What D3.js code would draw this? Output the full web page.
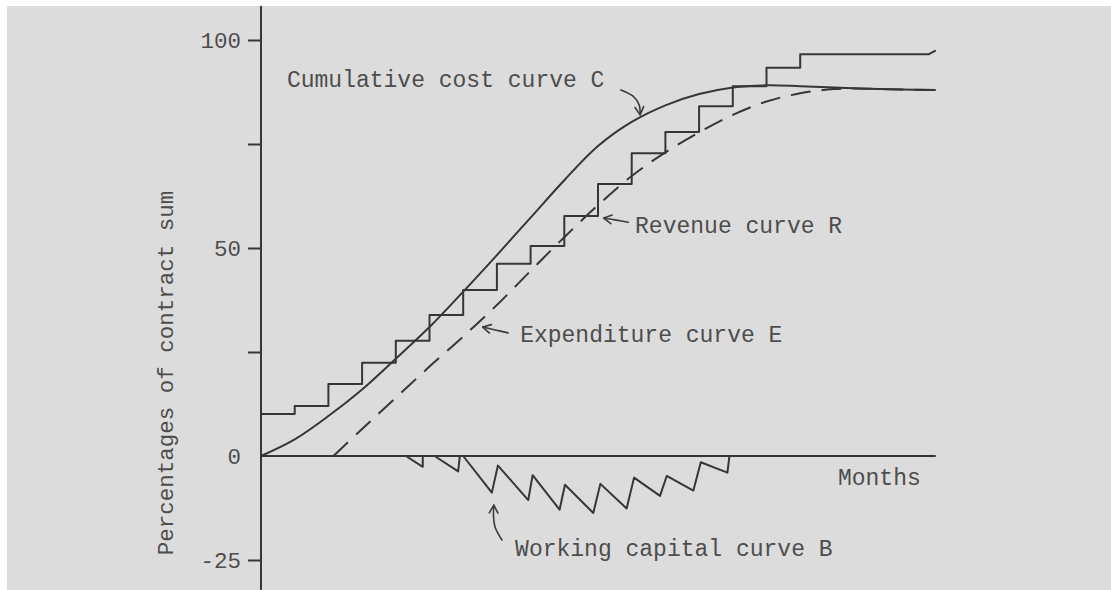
<!DOCTYPE html>
<html>
<head>
<meta charset="utf-8">
<script src="https://cdnjs.cloudflare.com/ajax/libs/d3/7.8.5/d3.min.js"></script>
<style>
  body { margin: 0; background: #fff; }
  svg { display: block; }
  .label { font-family: "Liberation Mono", "Courier New", monospace; font-size: 23px; fill: #4d4d4d; }
  .ink { fill: none; stroke: #363636; stroke-width: 2; stroke-linejoin: round; stroke-linecap: round; }
  .pointer { fill: none; stroke: #3c3c3c; stroke-width: 1.6; stroke-linecap: round; stroke-linejoin: round; }
</style>
</head>
<body>
<div id="chart"></div>
<script>
// months along the bottom
var months = [0, 1, 2, 3, 4, 5, 6, 7, 8, 9, 10, 11, 12, 13, 14, 15, 16, 17, 18, 19, 20];

// cumulative cost curve C (% of contract sum)
var costCurve = [0, 4.0, 9.6, 16, 23.4, 31, 39.5, 48.3, 57.3, 66.3, 74.5, 80.3, 84.3, 87, 88.6, 89.1, 88.9, 88.6, 88.3, 88.1, 88];

// expenditure curve E (dashed), starts a couple of months late
var expenditureMonths = [2.15, 3, 4, 5, 6, 7, 8, 9, 10, 11, 12, 13, 14, 15, 16, 17, 18, 19, 20];
var expenditureCurve = [0, 6.5, 14, 21.5, 28.7, 36.3, 44.5, 52.6, 60.3, 67.3, 73, 77.8, 82, 85.2, 87.2, 88.2, 88.3, 88.1, 88];

// revenue curve R: level held from month i to month i+1 (the last one to the end)
var revenueSteps = [10.1, 12, 17.3, 22.4, 27.7, 33.9, 39.9, 46.2, 50.5, 57.7, 65.4, 72.8, 77.9, 84.1, 88.9, 93.3, 96.6];
var revenueEnd = 97.4;

// working capital curve B
var capitalMonths = [4.3, 4.8, 4.8, 5.15, 5.85, 5.9, 6.0, 6.85, 7.03, 7.93, 8.06, 8.86, 9.02, 9.86, 10.07, 10.85, 11.07, 11.84, 12.04, 12.83, 13.05, 13.84, 13.9];
var capitalValues = [0, -2.6, 0, 0, -3.7, 0, 0, -8.8, -2.3, -10.6, -4.6, -12.9, -6.9, -13.7, -6.7, -12.6, -5.2, -9.6, -4.8, -8.3, -1.5, -4.0, 0];

// y ticks
var yTicks = [-25, 0, 25, 50, 75, 100];
var yTickLabels = ["-25", "0", "", "50", "", "100"];

(function() {
  var width = 1111,
      height = 590;

  var svg = d3.select("#chart")
    .append("svg")
    .attr("width", width)
    .attr("height", height);

  // scanned page background
  svg.append("rect")
    .attr("x", 7)
    .attr("y", 6)
    .attr("width", width - 7)
    .attr("height", height - 6)
    .attr("fill", "#dcdcdc");

  var xPositionScale = d3.scaleLinear().domain([0, 20]).range([261, 935]);
  var yPositionScale = d3.scaleLinear().domain([-25, 100]).range([560, 40]);

  var line = d3.line()
    .x(function(d) { return xPositionScale(d[0]); })
    .y(function(d) { return yPositionScale(d[1]); });

  // y axis
  var yAxis = d3.axisLeft(yPositionScale)
    .tickValues(yTicks)
    .tickSize(13)
    .tickPadding(7)
    .tickFormat(function(d, i) { return yTickLabels[i]; });

  var yAxisG = svg.append("g")
    .attr("class", "y-axis")
    .attr("transform", "translate(" + xPositionScale(0) + ",0)")
    .call(yAxis);

  yAxisG.select(".domain").remove();
  yAxisG.selectAll(".tick line")
    .attr("stroke", "#363636")
    .attr("stroke-width", 2)
    .style("display", function(d) { return d === 0 ? "none" : null; });
  yAxisG.selectAll(".tick text")
    .attr("class", "label")
    .attr("fill", null)
    .style("font-size", "22.5px");

  svg.append("path")
    .attr("class", "ink")
    .attr("d", line([[0, 108], [0, -32]]));

  // x axis line
  svg.append("path")
    .attr("class", "ink")
    .attr("d", line([[0, 0], [20, 0]]));

  svg.append("text")
    .attr("class", "label")
    .attr("x", xPositionScale(17.12))
    .attr("y", yPositionScale(-7))
    .text("Months");

  svg.append("text")
    .attr("class", "label")
    .attr("transform", "translate(173," + 373 + ") rotate(-90)")
    .attr("text-anchor", "middle")
    .style("font-size", "22.5px")
    .text("Percentages of contract sum");

  // cumulative cost curve C
  var costPoints = months.map(function(m, i) { return [m, costCurve[i]]; });
  svg.append("path")
    .attr("class", "ink")
    .attr("d", line.curve(d3.curveCatmullRom.alpha(0.5))(costPoints));

  // expenditure curve E
  var expPoints = expenditureMonths.map(function(m, i) { return [m, expenditureCurve[i]]; });
  svg.append("path")
    .attr("class", "ink")
    .attr("stroke-dasharray", "20,11")
    .style("stroke-linecap", "butt")
    .attr("d", line.curve(d3.curveCatmullRom.alpha(0.5))(expPoints));

  // revenue curve R, drawn as steps
  var revPoints = [];
  revenueSteps.forEach(function(v, i) {
    if (i > 0) { revPoints.push([months[i], revenueSteps[i - 1]]); }
    revPoints.push([months[i], v]);
  });
  revPoints.push([19.82, revenueSteps[revenueSteps.length - 1]]);
  revPoints.push([20, revenueEnd]);
  svg.append("path")
    .attr("class", "ink")
    .attr("d", line.curve(d3.curveLinear)(revPoints));

  // working capital curve B
  var capPoints = capitalMonths.map(function(m, i) { return [m, capitalValues[i]]; });
  svg.append("path")
    .attr("class", "ink")
    .attr("d", line.curve(d3.curveLinear)(capPoints));

  // labels with pointer arrows
  function drawPointer(points) {
    svg.append("path")
      .attr("class", "pointer")
      .attr("d", line.curve(d3.curveCatmullRom)(points));

    var n = points.length;
    var x1 = xPositionScale(points[n - 2][0]), y1 = yPositionScale(points[n - 2][1]);
    var x2 = xPositionScale(points[n - 1][0]), y2 = yPositionScale(points[n - 1][1]);
    var angle = Math.atan2(y2 - y1, x2 - x1);
    var len = 9, spread = 0.5;
    svg.append("path")
      .attr("class", "pointer")
      .attr("d", "M" + (x2 - len * Math.cos(angle - spread)) + "," + (y2 - len * Math.sin(angle - spread)) +
        "L" + x2 + "," + y2 +
        "L" + (x2 - len * Math.cos(angle + spread)) + "," + (y2 - len * Math.sin(angle + spread)));
  }

  svg.append("text")
    .attr("class", "label")
    .attr("x", xPositionScale(0.77))
    .attr("y", yPositionScale(88.7))
    .text("Cumulative cost curve C");
  drawPointer([[10.68, 88], [11.04, 86.5], [11.22, 84.4], [11.25, 82.0]]);

  svg.append("text")
    .attr("class", "label")
    .attr("x", xPositionScale(11.1))
    .attr("y", yPositionScale(53.6))
    .text("Revenue curve R");
  drawPointer([[10.9, 56.2], [10.55, 56.7], [10.17, 57.2]]);

  svg.append("text")
    .attr("class", "label")
    .attr("x", xPositionScale(7.69))
    .attr("y", yPositionScale(27.5))
    .text("Expenditure curve E");
  drawPointer([[7.33, 29.6], [6.95, 30.3], [6.58, 31.0]]);

  svg.append("text")
    .attr("class", "label")
    .attr("x", xPositionScale(7.54))
    .attr("y", yPositionScale(-24))
    .text("Working capital curve B");
  drawPointer([[7.15, -20.2], [6.95, -17.2], [6.9, -14.5], [6.91, -11.8]]);
})();
</script>
</body>
</html>
